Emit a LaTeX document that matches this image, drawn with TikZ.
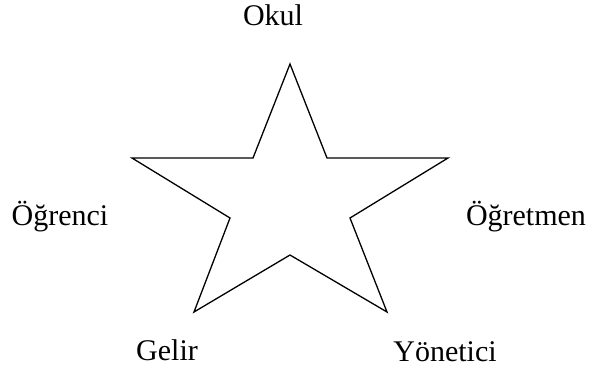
\documentclass[tikz,border=0pt]{standalone}
\usepackage{fontspec}
\setmainfont{Liberation Serif}
\usepackage{tikz}
\usetikzlibrary{positioning}
\tikzset{
  starline/.style={draw=black,line width=1.3pt,line join=miter},
  lab/.style={font=\fontsize{30}{35}\selectfont,anchor=base,inner sep=0pt}
}

\begin{document}
\begin{tikzpicture}[x=1pt,y=-1pt]
  \useasboundingbox (0,0) rectangle (589,370);
  % star corners, outer and inner
  \coordinate (top)  at (290,64);
  \coordinate (itl)  at (253,158);
  \coordinate (oul)  at (132,158);
  \coordinate (il)   at (230,218);
  \coordinate (oll)  at (194,312);
  \coordinate (ib)   at (290,255);
  \coordinate (olr)  at (387,312);
  \coordinate (ir)   at (350,218);
  \coordinate (our)  at (448,158);
  \coordinate (itr)  at (327,158);
  \draw[starline] (top)--(itl)--(oul)--(il)--(oll)--(ib)
    --(olr)--(ir)--(our)--(itr)--cycle;

  \node[lab] (okul) at (273,25) {Okul};
  \node[lab] (ogrenci) at (60,225) {Öğrenci};
  \node[lab] (ogretmen) at (526,225) {Öğretmen};
  \node[lab] (gelir) at (167,360) {Gelir};
  \node[lab] (yonetici) at (445,361) {Yönetici};
\end{tikzpicture}
\end{document}
